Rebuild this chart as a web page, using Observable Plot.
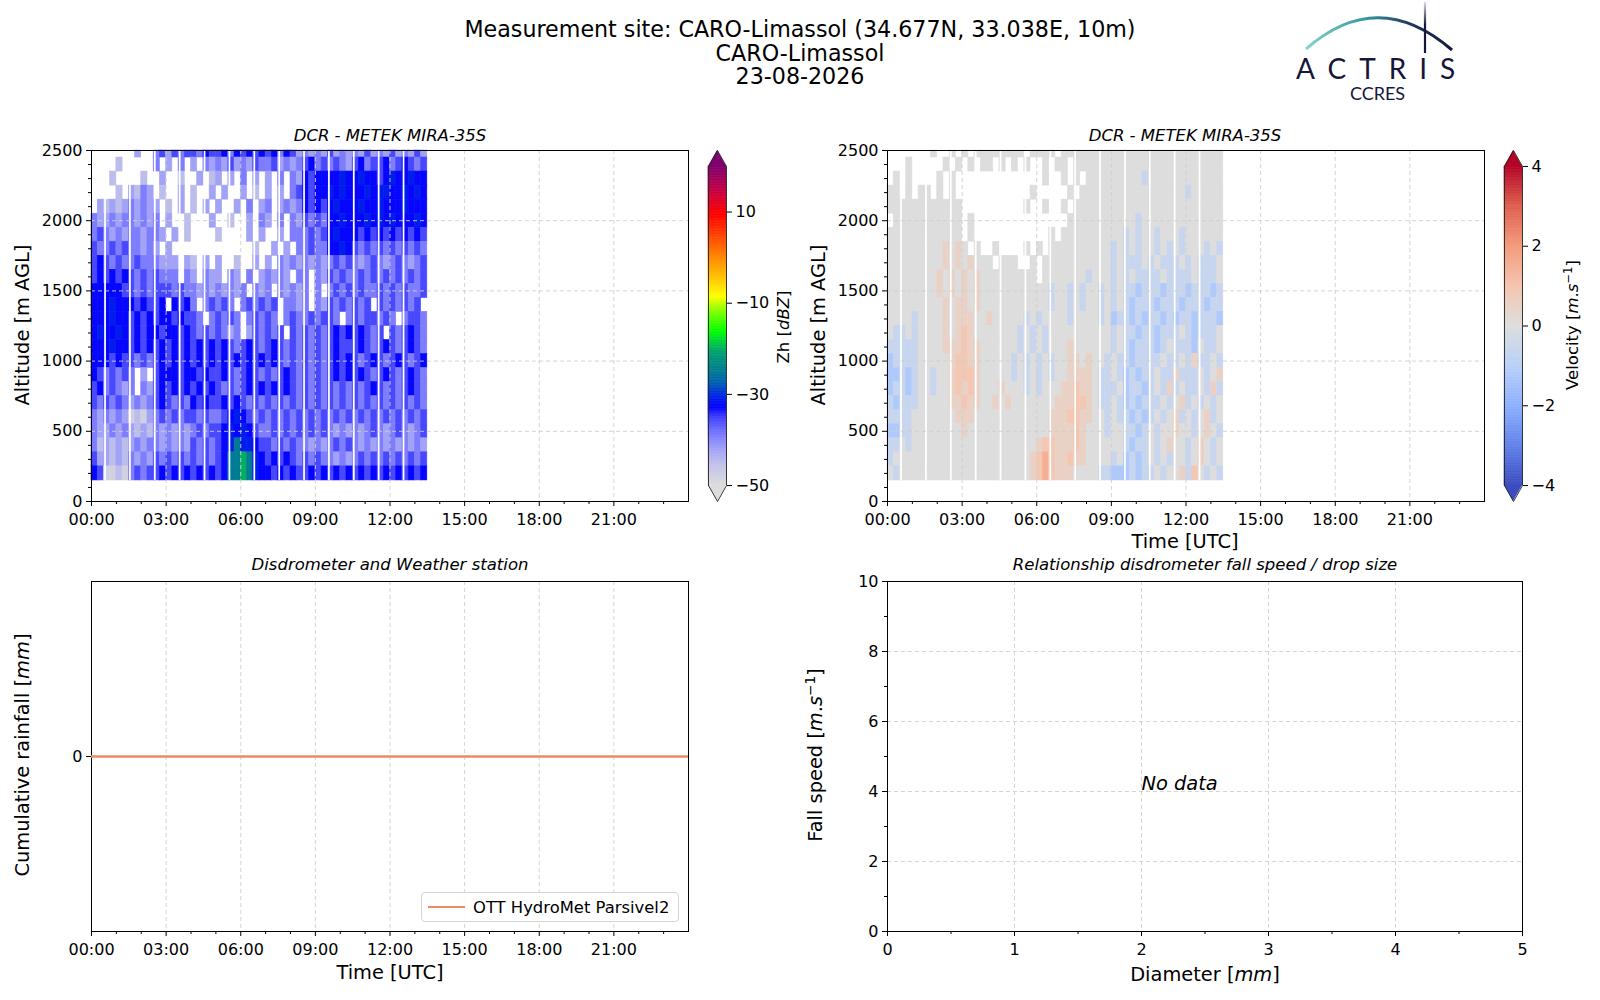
<!DOCTYPE html>
<html><head><meta charset="utf-8">
<script src="https://cdn.jsdelivr.net/npm/d3@7"></script>
<script src="https://cdn.jsdelivr.net/npm/@observablehq/plot@0.6"></script>
<style>
body{margin:0;background:#fff;}
#fig{position:relative;width:1600px;height:1000px;font-family:"DejaVu Sans",sans-serif;color:#000;overflow:hidden;background:#fff}
.abs{position:absolute;white-space:nowrap;line-height:1}
</style></head><body><div id="fig"></div>
<script>
// ---------------- data ----------------
const titleLines = ["Measurement site: CARO-Limassol (34.677N, 33.038E, 10m)", "CARO-Limassol", "23-08-2026"];
const timeTicks = [0, 3, 6, 9, 12, 15, 18, 21];
const timeMinorTicks = [1, 2, 4, 5, 7, 8, 10, 11, 13, 14, 16, 17, 19, 20, 22, 23];
const altTicks = [0, 500, 1000, 1500, 2000, 2500];
const altMinorTicks = [100, 200, 300, 400, 600, 700, 800, 900, 1100, 1200, 1300, 1400, 1600, 1700, 1800, 1900, 2100, 2200, 2300, 2400];
const zhTicks = [-50, -30, -10, 10];
const velTicks = [-4, -2, 0, 2, 4];
const rainTicks = [0];
const rainTime = [0, 6, 12, 18, 24];
const rainCum = [0, 0, 0, 0, 0];
const diamTicks = [0, 1, 2, 3, 4, 5];
const diamMinorTicks = [0.5, 1.5, 2.5, 3.5, 4.5];
const speedTicks = [0, 2, 4, 6, 8, 10];
const speedMinorTicks = [1, 3, 5, 7, 9];

// radar grid: 15-min columns from 00:00, 100 m rows from 150 m; rows listed top (2450 m) to bottom (150 m)
const cellHours = 0.25, cellMeters = 100, firstGate = 150, topAlt = 2500;
const zhLevels = [-48, -45, -42, -39, -35.5, -33, -31, -25, -20, -15];   // dBZ for code digit 0..9, "." = no signal
const zhRows = [
  ".. .... .2.. 342434 4354 45354545 453542 3232 4232 324232423242",
  ".. ..1. .... 3.2.3. 2.32 32423243 342323 4534 3432 453445345434",
  ".. .1.. ..1. .2..1. .2.1 2.2.3.2. 2.3.32 5455 5565 565545655655",
  ".. ..1. 2132 .1..2. 1..2 .2..2.1. 2.2.34 5455 6565 556566556565",
  ".2 1212 3232 2.1.2. 1.2. 2..2.3.2 3.2323 5454 5655 565565556555",
  "32 2323 3232 3.2..1 ...2 ..1..2.3 2.3.32 4343 5565 556565655565",
  "34 3232 3323 32.2.1 .... 1....2.2 ..2.33 3434 5655 545454545454",
  "43 3434 3323 2.2... .... ......1. .2.2.3 3433 5565 434343434343",
  "45 4343 3433 3222.2 1.2. 2..1..2. 2.3232 3232 3434 323432343234",
  "45 4545 4343 4333.3 2.32 2.32.3.2 3232.3 3.32 4343 343434343434",
  "55 5554 4343 444343 3232 32323.32 3.3232 3.3. 3434 343343434334",
  "55 5655 5454 45.545 3.34 343.3434 34.332 3.32 4343 434.4343434.",
  "55 5655 4545 455454 43.3 4343.343 43.343 3434 43.3 4344343.3443",
  "56 5565 4545 545545 4343 4323.243 434.43 4343 4545 45434.434543",
  "55 5655 4545 454545 4545 45434543 454343 4343 4544 454345434543",
  "55 5454 4343 454545 4545 45454545 454343 4343 4545 434543454345",
  "54 3434 3.2. 455545 5454 45434543 434543 4343 4545 454345434543",
  "45 3432 3.32 454545 4545 43434545 454543 4343 4343 434543434543",
  "43 4343 2323 454343 5454 45454343 434343 4343 4343 434343434343",
  "32 3232 0102 343434 4343 34565434 343434 3434 3434 343434343434",
  "32 2323 2121 323232 3434 45656543 343434 3434 3232 323432343234",
  "31 2121 2323 323232 4343 45676654 434343 3232 3434 323232323232",
  "42 2121 3232 434343 4343 45778765 454543 4343 3232 343434343434",
  "54 0010 3434 454545 4545 45778765 545454 4545 4545 454545454545"
];
const velLevels = [-3, -2.5, -1.8, -1.2, -0.6, 0, 0.5, 0.9, 1.5, 2.5];  // m/s for code digit 0..9
const velRows = [
  ".. .... .5.. 5.5.55 5555 55.5555. 555555 5555 5555 555555555555",
  ".. .5.. ...5 .5.5.5 5.5. 5.5..5.5 5.5555 5555 5555 555555555555",
  ".5 .5.. ..5. 5..... .... .....5.. 5.5.55 5555 5554 555555555555",
  "55 .5.5 5.5. 5..... .... ...5.... .5.555 5555 5555 555555455555",
  "55 5555 5555 55.... .... ..5..5.. 5.5555 5555 5555 555555555555",
  ".5 5555 5555 55.5.. .... ........ .55555 5555 5545 555555555555",
  "55 5555 5555 55.5.. .... ......5. 555555 5555 4545 545554555555",
  "55 5555 5556 565.5. .5.. ..5.5.55 555555 5545 4545 545454555454",
  "55 5555 5556 565655 5.55 5..5.555 555555 5545 4445 454445454445",
  "55 5555 5565 656565 5555 5555.555 555545 5545 4544 445444454445",
  "55 5555 5565 656565 5555 55555545 545455 4545 4434 443444344434",
  "55 5555 5556 566565 5555 55555545 545455 4545 4344 434443444344",
  "55 5545 5556 566655 6555 55454555 545555 4534 4343 443434434443",
  "54 4545 5556 567655 5555 54545455 555555 5545 4434 434445434445",
  "44 4445 5556 667665 5555 54545455 565555 5545 4344 434544435445",
  "34 4445 5555 677665 5555 45454545 566565 5454 4344 445445464454",
  "33 4345 5455 677765 5555 45454545 566665 4454 3434 454464445456",
  "34 4345 5455 676765 5565 55454555 667665 4445 3443 454645445464",
  "43 4445 5555 667665 5656 55555556 667765 4454 3434 445456454545",
  "44 4455 5555 566655 5555 55555566 677665 5454 4343 454564545645",
  "33 4455 5555 556555 5555 55555566 667655 5455 4434 545565545654",
  "44 5455 5555 555555 5555 55556776 667655 5555 4344 545655456545",
  "45 5555 5555 555555 5555 55567876 676655 5545 3434 545455456545",
  "54 5555 5555 555555 5555 55567876 665555 4433 3434 454556475454"
];
// short data gaps (hours) in the radar record
const gapHours = [0.53, 1.53, 2.53, 3.53, 4.53, 5.53, 6.53, 7.53, 8.53, 9.53, 10.53, 11.53, 12.53];
const gapDuration = 0.07;

// colour maps
const zhStops = [-50, -45.5, -41.8, -38, -35, -32.8, -29.8, -27.5, -24.5, -20.8, -17.8, -16.3, -11.8, -8.5, -4.3, -0.6, 3.9, 9.5, 14.4, 20];
const zhColors = ["#dcdcdc", "#c2c2ea", "#a0a0f8", "#7070ff", "#4040ff", "#0000ff", "#0030e0", "#0060b0", "#008090", "#00a070", "#00dd30", "#00ff00", "#80ff00", "#ffff00", "#ffc000", "#ff9000", "#ff5000", "#ff0000", "#c80040", "#800070"];
const velStops = [-4, -3, -2, -1, 0, 1, 2, 3, 4];
const velColors = ["rgb(59,76,192)", "rgb(98,130,234)", "rgb(141,176,254)", "rgb(184,208,249)", "rgb(221,221,221)", "rgb(245,196,173)", "rgb(244,154,123)", "rgb(222,96,77)", "rgb(180,4,38)"];

// ---------------- helpers ----------------
const fig = document.getElementById("fig");
const FONT = '"DejaVu Sans", sans-serif';
const GRID = "#cfcfcf";
const fmtHour = h => String(h).padStart(2, "0") + ":00";
const fmtNum = d => d < 0 ? "\u2212" + Math.abs(d) : String(d);

function gridCells(rows, levels) {
  const out = [];
  const n = rows.length;
  rows.forEach((raw, i) => {
    const s = raw.replace(/ /g, "");
    const a0 = firstGate + (n - 1 - i) * cellMeters;
    for (let c = 0; c < s.length; c++) {
      const ch = s[c];
      if (ch === ".") continue;
      out.push({t0: c * cellHours, t1: (c + 1) * cellHours, a0, a1: Math.min(topAlt, a0 + cellMeters), v: levels[+ch]});
    }
  });
  return out;
}

function place(node, left, top) {
  node.style.position = "absolute";
  node.style.left = left + "px";
  node.style.top = top + "px";
  fig.appendChild(node);
}
function label(html, x, y, {size = 19.4, rotate = false, italic = false} = {}) {
  const d = document.createElement("div");
  d.className = "abs";
  d.innerHTML = html;
  d.style.left = x + "px";
  d.style.top = y + "px";
  d.style.fontSize = size + "px";
  if (italic) d.style.fontStyle = "italic";
  d.style.transform = rotate ? "translate(-50%,-50%) rotate(-90deg)" : "translate(-50%,-50%)";
  fig.appendChild(d);
  return d;
}

const M = {l: 80, r: 20, t: 10, b: 40};
const styleBase = {fontFamily: FONT, fontSize: "16px", color: "#000", background: "transparent", overflow: "visible"};
function panel(box, opts, marks) {
  const svg = Plot.plot({
    width: (box.R - box.L) + M.l + M.r, height: (box.B - box.T) + M.t + M.b,
    marginLeft: M.l, marginRight: M.r, marginTop: M.t, marginBottom: M.b,
    style: styleBase, ...opts, marks
  });
  place(svg, box.L - M.l, box.T - M.t);
}
function axesMarks({xTicks, xMinor, xFmt, yTicks, yMinor, yFmt, gridYTicks}) {
  const gridOpts = {stroke: GRID, strokeOpacity: 1, strokeWidth: 0.9, strokeDasharray: "4,3"};
  return [
    Plot.gridX(xTicks, gridOpts),
    Plot.gridY(gridYTicks, gridOpts),
    Plot.axisX(xTicks, {tickFormat: xFmt, tickSize: 5, tickPadding: 7, label: null}),
    Plot.axisX(xMinor, {tickFormat: () => "", tickSize: 3, label: null}),
    Plot.axisY(yTicks, {tickFormat: yFmt, tickSize: 5, tickPadding: 4, label: null}),
    Plot.axisY(yMinor, {tickFormat: () => "", tickSize: 3, label: null}),
    Plot.frame({stroke: "#000", strokeWidth: 1})
  ];
}

function colorbar(box, colorOpts, lo, hi, ticks, underColor, overColor) {
  const ext = (hi - lo) * 0.05;
  const step = (hi - lo) / 200;
  const ramp = d3.range(lo, hi, step);
  const outline = [{x: 0, y: lo}, {x: 0, y: hi}, {x: 0.5, y: hi + ext}, {x: 1, y: hi}, {x: 1, y: lo}, {x: 0.5, y: lo - ext}, {x: 0, y: lo}];
  const mL = 5, mR = 60, mT = 10, mB = 10;
  const svg = Plot.plot({
    width: (box.R - box.L) + mL + mR, height: (box.B - box.T) + mT + mB,
    marginLeft: mL, marginRight: mR, marginTop: mT, marginBottom: mB,
    x: {domain: [0, 1], axis: null},
    y: {domain: [lo - ext, hi + ext], axis: null},
    color: colorOpts,
    style: styleBase,
    marks: [
      Plot.rect(ramp, {x1: 0, x2: 1, y1: d => d, y2: d => d + step, fill: d => d + step / 2, stroke: d => d + step / 2, strokeWidth: 0.6}),
      Plot.areaX([{y: hi, x1: 0, x2: 1}, {y: hi + ext, x1: 0.5, x2: 0.5}], {y: "y", x1: "x1", x2: "x2", fill: overColor}),
      Plot.areaX([{y: lo, x1: 0, x2: 1}, {y: lo - ext, x1: 0.5, x2: 0.5}], {y: "y", x1: "x1", x2: "x2", fill: underColor}),
      Plot.line(outline, {x: "x", y: "y", stroke: "#222", strokeWidth: 0.9}),
      Plot.axisY(ticks, {anchor: "right", tickFormat: fmtNum, tickSize: 5, tickPadding: 4, label: null})
    ]
  });
  place(svg, box.L - mL, box.T - mT);
}

// ---------------- layout boxes (axes frames) ----------------
const TL = {L: 91, R: 688, T: 150, B: 501};
const TR = {L: 887, R: 1484, T: 150, B: 501};
const CB1 = {L: 708, R: 726, T: 150, B: 501};
const CB2 = {L: 1504, R: 1522, T: 150, B: 501};
const BL = {L: 91, R: 688, T: 581, B: 931};
const BR = {L: 887, R: 1522, T: 581, B: 931};

const zhColor = {type: "linear", domain: zhStops, range: zhColors, clamp: true};
const velColor = {type: "linear", domain: velStops, range: velColors, clamp: true};

// ---------------- radar panels ----------------
const zhCells = gridCells(zhRows, zhLevels);
const velCells = gridCells(velRows, velLevels);
const radarAxes = {xTicks: timeTicks, xMinor: timeMinorTicks, xFmt: fmtHour, yTicks: altTicks, yMinor: altMinorTicks, yFmt: d => String(d), gridYTicks: altTicks};

function radar(box, cells, colorOpts) {
  panel(box, {x: {domain: [0, 24]}, y: {domain: [0, 2500]}, color: colorOpts}, [
    Plot.rect(cells, {x1: "t0", x2: "t1", y1: "a0", y2: "a1", fill: "v", stroke: "v", strokeWidth: 0.6}),
    Plot.rect(gapHours, {x1: d => d, x2: d => d + gapDuration, y1: firstGate, y2: topAlt, fill: "white"}),
    ...axesMarks(radarAxes)
  ]);
}
radar(TL, zhCells, zhColor);
radar(TR, velCells, velColor);
colorbar(CB1, zhColor, -50, 20, zhTicks, zhColors[0], zhColors[zhColors.length - 1]);
colorbar(CB2, velColor, -4, 4, velTicks, velColors[0], velColors[velColors.length - 1]);

// ---------------- disdrometer rainfall ----------------
const rain = rainTime.map((t, i) => ({t, v: rainCum[i]}));
panel(BL, {x: {domain: [0, 24]}, y: {domain: [-0.055, 0.055]}}, [
  ...axesMarks({xTicks: timeTicks, xMinor: timeMinorTicks, xFmt: fmtHour, yTicks: rainTicks, yMinor: [], yFmt: d => String(d), gridYTicks: []}),
  Plot.line(rain, {x: "t", y: "v", stroke: "#ef8a62", strokeWidth: 2.6, clip: true})
]);

// ---------------- fall speed / drop size ----------------
panel(BR, {x: {domain: [0, 5]}, y: {domain: [0, 10]}}, [
  ...axesMarks({xTicks: diamTicks, xMinor: diamMinorTicks, xFmt: d => String(d), yTicks: speedTicks, yMinor: speedMinorTicks, yFmt: d => String(d), gridYTicks: speedTicks}),
  Plot.text([{x: 2, y: 4}], {x: "x", y: "y", text: () => "No data", textAnchor: "start", lineAnchor: "bottom", dy: -2, fontStyle: "italic", fontSize: 19.4})
]);

// ---------------- texts ----------------
titleLines.forEach((t, i) => label(t, 800, 29 + i * 23.5, {size: 22.2}));
label("DCR - METEK MIRA-35S", 390, 136, {size: 16.5, italic: true});
label("DCR - METEK MIRA-35S", 1185, 136, {size: 16.5, italic: true});
label("Disdrometer and Weather station", 390, 565, {size: 16.5, italic: true});
label("Relationship disdrometer fall speed / drop size", 1205, 565, {size: 16.5, italic: true});
label("Altitude [m AGL]", 22.5, 325, {rotate: true});
label("Altitude [m AGL]", 819, 325, {rotate: true});
label("Time [UTC]", 1185, 542);
label('Zh [<i>dBZ</i>]', 784, 327, {size: 16.5, rotate: true});
label('Velocity [<i>m</i>.<i>s</i><sup style="font-size:70%;vertical-align:0.5em">\u22121</sup>]', 1572, 325, {size: 16.5, rotate: true});
label('Cumulative rainfall [<i>mm</i>]', 22.5, 755, {rotate: true});
label("Time [UTC]", 390, 973);
label('Fall speed [<i>m</i>.<i>s</i><sup style="font-size:70%;vertical-align:0.5em">\u22121</sup>]', 815, 755, {rotate: true});
label('Diameter [<i>mm</i>]', 1205, 975);

// legend (bottom-left panel)
const lg = document.createElement("div");
lg.style.cssText = "position:absolute;left:421px;top:892px;width:258px;height:30px;box-sizing:border-box;border:1px solid #d4d4d4;border-radius:4px;background:rgba(255,255,255,0.85)";
fig.appendChild(lg);
const lgLine = document.createElement("div");
lgLine.style.cssText = "position:absolute;left:428px;top:905.5px;width:37px;height:2.6px;background:#ef8a62";
fig.appendChild(lgLine);
const lgText = label("OTT HydroMet Parsivel2", 0, 907.5, {size: 16.4});
lgText.style.transform = "translate(0,-50%)";
lgText.style.left = "473px";

// logo
const logo = document.createElement("div");
logo.style.cssText = "position:absolute;left:1280px;top:0px;width:200px;height:110px";
logo.innerHTML = `<svg width="200" height="110" viewBox="0 0 200 110">
<defs>
<linearGradient id="arcg" gradientUnits="userSpaceOnUse" x1="26" y1="0" x2="172" y2="0">
<stop offset="0" stop-color="#86d3cb"/><stop offset="0.4" stop-color="#3a9aa3"/><stop offset="0.7" stop-color="#1f3a63"/><stop offset="1" stop-color="#15163a"/></linearGradient>
<linearGradient id="vg" gradientUnits="userSpaceOnUse" x1="0" y1="2" x2="0" y2="53">
<stop offset="0" stop-color="#15163a" stop-opacity="0.15"/><stop offset="0.45" stop-color="#15163a" stop-opacity="1"/></linearGradient>
</defs>
<path d="M26,49 Q98,-14 172,50" fill="none" stroke="url(#arcg)" stroke-width="3"/>
<line x1="145" y1="2" x2="145" y2="53" stroke="url(#vg)" stroke-width="2.2"/>
<text x="16" y="78.5" font-family="Lato, 'Open Sans', sans-serif" font-size="28" letter-spacing="13" fill="#15163a">ACTRIS</text>
<text x="97.5" y="99.5" text-anchor="middle" font-family="Lato, 'Open Sans', sans-serif" font-size="18" fill="#15163a">CCRES</text>
</svg>`;
fig.appendChild(logo);
</script></body></html>
